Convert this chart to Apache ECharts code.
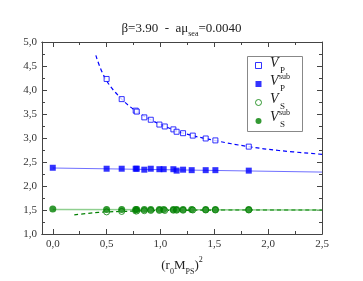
<!DOCTYPE html>
<html>
<head>
<meta charset="utf-8">
<script src="https://cdn.jsdelivr.net/npm/echarts@6/dist/echarts.min.js"></script>
<style>html,body{margin:0;padding:0;background:#fff}#c{width:363px;height:281px}</style>
</head>
<body>
<div id="c"></div>
<script>
// ---- data ----
var xVals   = [0.50,0.64,0.77,0.78,0.85,0.91,0.99,1.04,1.12,1.15,1.21,1.30,1.42,1.51,1.82];
var vP      = [4.23,3.81,3.57,3.55,3.43,3.38,3.28,3.24,3.18,3.13,3.10,3.05,2.99,2.95,2.82];
var vPsubX  = [0.00,0.50,0.64,0.77,0.78,0.85,0.91,0.99,1.03,1.12,1.15,1.21,1.29,1.42,1.51,1.82];
var vPsub   = [2.38,2.36,2.36,2.36,2.36,2.34,2.36,2.35,2.35,2.35,2.32,2.34,2.33,2.33,2.33,2.32];
var vS      = [1.46,1.47,1.48,1.48,1.485,1.49,1.49,1.49,1.495,1.495,1.495,1.50,1.50,1.50,1.50];
var vSsubX  = [0.00,0.50,0.64,0.77,0.78,0.85,0.91,0.99,1.03,1.12,1.15,1.21,1.29,1.42,1.51,1.82];
var vSsub   = [1.52,1.51,1.51,1.51,1.51,1.51,1.51,1.51,1.51,1.51,1.51,1.51,1.51,1.51,1.51,1.51];
// fit curves
var pCurveX = [0.40,0.49,0.64,0.78,0.91,1.00,1.20,1.50,1.82,2.10,2.50];
var pCurveY = [4.72,4.23,3.81,3.55,3.38,3.28,3.11,2.95,2.82,2.74,2.66];
var sCurveX = [0.20,0.35,0.50,0.64,0.80,1.00,1.30,1.60,2.00,2.50];
var sCurveY = [1.40,1.435,1.46,1.47,1.48,1.49,1.495,1.50,1.50,1.50];
var fitX    = [0.00,2.50];
var pFitY   = [2.375,2.29];
var sFitY   = [1.51,1.50];
// ticks
var xMajor  = [0,0.5,1.0,1.5,2.0,2.5];
var xMinor  = [0.25,0.75,1.25,1.75,2.25];

function zip(a,b){return a.map(function(v,i){return [v,b[i]];});}

var FONT = '"Liberation Serif", "DejaVu Serif", serif';
var AX = '#444';
function fmt(v){return v.toFixed(1).replace('.', ',');}

function xAx(pos, ticks, len, labels, name){
  var o = {
    type:'value', min:-0.1, max:2.5, position:pos,
    axisLine:{show:true, onZero:false, lineStyle:{color:AX, width:1}},
    axisTick:{show:true, inside:true, length:len, customValues:ticks, lineStyle:{color:AX}},
    axisLabel:{show:labels, customValues:ticks, formatter:fmt, fontFamily:FONT, fontSize:11, color:'#333', margin:5},
    splitLine:{show:false}
  };
  if (name) {
    o.name = '{a|(r}{s|0}{a|M}{s|PS}{a|)}{p|2}';
    o.nameLocation = 'middle';
    o.nameGap = 22;
    o.nameTextStyle = {rich:{
      a:{fontFamily:FONT, fontSize:13, color:'#222', lineHeight:20, fontWeight:'normal'},
      s:{fontFamily:FONT, fontSize:8, color:'#222', lineHeight:10, verticalAlign:'bottom', fontWeight:'normal'},
      p:{fontFamily:FONT, fontSize:8, color:'#222', lineHeight:10, verticalAlign:'top', fontWeight:'normal'}
    }};
  }
  return o;
}
function yAx(pos, labels){
  return {
    type:'value', min:1, max:5, interval:0.5, position:pos,
    axisLine:{show:true, onZero:false, lineStyle:{color:AX, width:1}},
    axisTick:{show:true, inside:true, length:5, lineStyle:{color:AX}},
    minorTick:{show:true, splitNumber:2, length:3, lineStyle:{color:AX}},
    axisLabel:{show:labels, formatter:fmt, fontFamily:FONT, fontSize:11, color:'#333', margin:5},
    splitLine:{show:false}
  };
}

var BLUE = '#0000ff', GREEN = '#008000';
var chart = echarts.init(document.getElementById('c'), null, {renderer:'canvas'});
var legendTop = 61;
var rowGap = 18;
var legendGraphics = [
  {type:'rect', shape:{x:247.5, y:56.5, width:55, height:75}, style:{fill:'none', stroke:'#888', lineWidth:1}, z:1}
];
[0,1,2,3].forEach(function(i){
  var sub = (i<2)?'P':'S';
  var y = legendTop + 4 + i*rowGap;
  legendGraphics.push({type:'text', left:270, top:y-9, style:{text:'V', font:'italic 14px '+FONT, fill:'#222'}});
  legendGraphics.push({type:'text', left:280, top:y+1, style:{text:sub, font:'9px '+FONT, fill:'#222'}});
  if (i===1||i===3) legendGraphics.push({type:'text', left:279, top:y-10, style:{text:'sub', font:'8px '+FONT, fill:'#222'}});
});

chart.setOption({
  animation:false,
  backgroundColor:'#fff',
  title:{
    text:'{a|β=3.90  -  aμ}{s|sea}{a|=0.0040}',
    left:'center', top:15,
    textStyle:{fontWeight:'normal', rich:{
      a:{fontFamily:FONT, fontSize:13, color:'#222', lineHeight:18, fontWeight:'normal'},
      s:{fontFamily:FONT, fontSize:8, color:'#222', lineHeight:10, verticalAlign:'bottom', fontWeight:'normal'}
    }}
  },
  grid:{left:42, right:41, top:42, bottom:42, containLabel:false},
  xAxis:[
    xAx('bottom', xMajor, 5, true, true),
    xAx('bottom', xMinor, 3, false, false),
    xAx('top', xMajor, 5, false, false),
    xAx('top', xMinor, 3, false, false)
  ],
  yAxis:[ yAx('left', true), yAx('right', false) ],
  legend:{
    orient:'vertical', left:255, top:legendTop+1, itemWidth:6, itemHeight:6, itemGap:rowGap-6,
    padding:0, formatter:function(){return '';},
    itemStyle:{borderWidth:1},
    data:['VP','VPsub','VS','VSsub'], selectedMode:false
  },
  graphic:legendGraphics,
  series:[
    {name:'pfit', type:'line', data:zip(fitX,pFitY), showSymbol:false, silent:true,
     lineStyle:{color:'#7070ff', width:1}, z:1},
    {name:'sfit', type:'line', data:zip(fitX,sFitY), showSymbol:false, silent:true,
     lineStyle:{color:'#8fcf8f', width:1.5}, z:1},
    {name:'pcurve', type:'line', data:zip(pCurveX,pCurveY), showSymbol:false, silent:true, smooth:0.4,
     lineStyle:{color:BLUE, width:1.2, type:[4,3]}, z:2},
    {name:'scurve', type:'line', data:zip(sCurveX,sCurveY), showSymbol:false, silent:true, smooth:0.4,
     lineStyle:{color:GREEN, width:1.2, type:[4,3]}, z:2},
    {name:'VP', type:'scatter', data:zip(xVals,vP), symbol:'rect', symbolSize:5,
     itemStyle:{color:'#fff', borderColor:BLUE, borderWidth:1}, z:3},
    {name:'VPsub', type:'scatter', data:zip(vPsubX,vPsub), symbol:'rect', symbolSize:6,
     itemStyle:{color:BLUE}, z:3},
    {name:'VS', type:'scatter', data:zip(xVals,vS), symbol:'circle', symbolSize:6,
     itemStyle:{color:'#fff', borderColor:GREEN, borderWidth:1}, z:3},
    {name:'VSsub', type:'scatter', data:zip(vSsubX,vSsub), symbol:'circle', symbolSize:7,
     itemStyle:{color:GREEN}, z:4}
  ]
});
</script>
</body>
</html>
